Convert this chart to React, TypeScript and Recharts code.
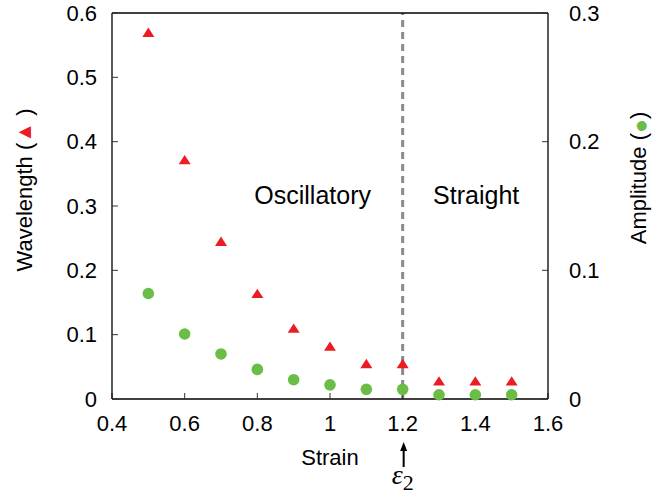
import React from "react";
import { ReferenceLine, Scatter, ScatterChart, XAxis, YAxis } from "recharts";

const strain = [0.5, 0.6, 0.7, 0.8, 0.9, 1.0, 1.1, 1.2, 1.3, 1.4, 1.5];
const wavelength = [0.57, 0.372, 0.245, 0.164, 0.11, 0.082, 0.055, 0.055, 0.028, 0.028, 0.028];
const amplitude = [0.082, 0.0505, 0.035, 0.023, 0.015, 0.011, 0.0075, 0.0075, 0.0033, 0.0033, 0.0033];

const xTicks = [0.4, 0.6, 0.8, 1, 1.2, 1.4, 1.6];
const leftTicks = [0, 0.1, 0.2, 0.3, 0.4, 0.5, 0.6];
const rightTicks = [0, 0.1, 0.2, 0.3];
const transition = 1.2;

const RED = "#ec1c24";
const GREEN = "#6abe45";
const FONT = "'Liberation Sans', Arial, Helvetica, sans-serif";

const wavelengthData = strain.map((x, i) => ({ x, y: wavelength[i] }));
const amplitudeData = strain.map((x, i) => ({ x, y: amplitude[i] }));

const tickStyle = { fill: "#000", fontSize: 22, fontFamily: FONT };
const axisLine = { stroke: "#000", strokeWidth: 1.3 };
const tickLine = { stroke: "#333", strokeWidth: 1 };

const Triangle = (props: any) => {
  const { cx, cy } = props;
  return <polygon points={`${cx},${cy - 4.8} ${cx - 6},${cy + 4.6} ${cx + 6},${cy + 4.6}`} fill={RED} />;
};

const Dot = (props: any) => {
  const { cx, cy } = props;
  return <circle cx={cx} cy={cy} r={5.8} fill={GREEN} />;
};

const LeftLabel = (props: any) => {
  const { x, y, height } = props.viewBox;
  const lx = x + 32;
  const ly = y + height / 2 - 16;
  return (
    <text x={lx} y={ly} transform={`rotate(-90, ${lx}, ${ly})`} textAnchor="middle" fontSize={22} fontFamily={FONT} fill="#000">
      Wavelength (<tspan fill={RED} fontSize={21} dy={-1}>▲</tspan><tspan dy={1}> )</tspan>
    </text>
  );
};

const RightLabel = (props: any) => {
  const { x, y, height } = props.viewBox;
  const lx = x + 98;
  const ly = y + height / 2 - 28;
  return (
    <text x={lx} y={ly} transform={`rotate(-90, ${lx}, ${ly})`} textAnchor="middle" fontSize={22} fontFamily={FONT} fill="#000">
      Amplitude (<tspan fill={GREEN} fontSize={23} dy={2}>●</tspan><tspan dy={-2}>)</tspan>
    </text>
  );
};

const StrainLabel = (props: any) => {
  const { x, y, width } = props.viewBox;
  return (
    <text x={x + width / 2} y={y + 66} textAnchor="middle" fontSize={22} fontFamily={FONT} fill="#000">
      Strain
    </text>
  );
};

// region names, arrow and epsilon hang off the dashed transition line
const TransitionLabel = (props: any) => {
  const { x, y, height } = props.viewBox;
  const bottom = y + height;
  return (
    <g>
      <text x={x - 90} y={y + 191} textAnchor="middle" fontSize={25} fontFamily={FONT} fill="#000">
        Oscillatory
      </text>
      <text x={x + 73.5} y={y + 191} textAnchor="middle" fontSize={25} fontFamily={FONT} fill="#000">
        Straight
      </text>
      <line x1={x + 1} y1={bottom + 50} x2={x + 1} y2={bottom + 68} stroke="#000" strokeWidth={2} />
      <polygon points={`${x + 1},${bottom + 43} ${x - 2.5},${bottom + 52} ${x + 4.5},${bottom + 52}`} fill="#000" />
      <text x={x - 11} y={bottom + 85} fontFamily="'Liberation Serif', 'DejaVu Serif', serif" fill="#000">
        <tspan fontSize={28} fontStyle="italic">ε</tspan>
        <tspan fontSize={22} dy={6}>2</tspan>
      </text>
    </g>
  );
};

export default function App() {
  return (
    <div style={{ position: "absolute", left: 0, top: 0, background: "#fff" }}>
      <ScatterChart width={654} height={494} margin={{ top: 0, right: 0, bottom: 0, left: 0 }} style={{ fontFamily: FONT }}>
        <XAxis
          xAxisId="b"
          type="number"
          dataKey="x"
          domain={[0.4, 1.6]}
          ticks={xTicks}
          height={95}
          tickSize={-6}
          tickMargin={22}
          tick={tickStyle}
          axisLine={axisLine}
          tickLine={tickLine}
          label={<StrainLabel />}
        />
        <XAxis
          xAxisId="t"
          orientation="top"
          type="number"
          dataKey="x"
          domain={[0.4, 1.6]}
          allowDataOverflow
          ticks={xTicks}
          height={13}
          tickSize={-6}
          tick={false}
          axisLine={axisLine}
          tickLine={tickLine}
        />
        <YAxis
          yAxisId="l"
          type="number"
          dataKey="y"
          domain={[0, 0.6]}
          ticks={leftTicks}
          width={112}
          tickSize={-6}
          tickMargin={21}
          tick={tickStyle}
          axisLine={axisLine}
          tickLine={tickLine}
          label={<LeftLabel />}
        />
        <YAxis
          yAxisId="r"
          orientation="right"
          type="number"
          dataKey="y"
          domain={[0, 0.3]}
          ticks={rightTicks}
          width={106}
          tickSize={-6}
          tickMargin={27}
          tick={tickStyle}
          axisLine={axisLine}
          tickLine={tickLine}
          label={<RightLabel />}
        />
        <ReferenceLine
          xAxisId="b"
          yAxisId="l"
          x={transition}
          stroke="#8a8a8a"
          strokeWidth={3}
          strokeDasharray="7 5"
          label={<TransitionLabel />}
        />
        <Scatter xAxisId="b" yAxisId="l" data={wavelengthData} shape={<Triangle />} isAnimationActive={false} />
        <Scatter xAxisId="b" yAxisId="r" data={amplitudeData} shape={<Dot />} isAnimationActive={false} />
      </ScatterChart>
    </div>
  );
}
